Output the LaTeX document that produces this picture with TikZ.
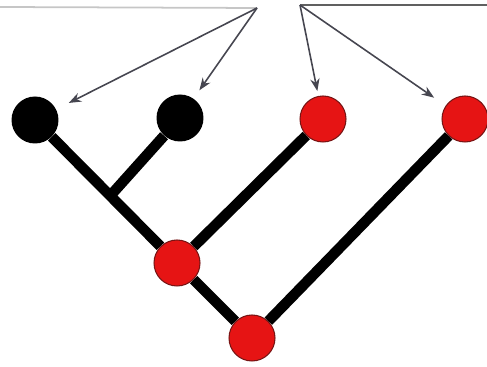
\documentclass[tikz,border=0pt]{standalone}
\usetikzlibrary{arrows.meta, calc}
\begin{document}
\begin{tikzpicture}[x=0.02cm, y=-0.02cm, >=Stealth]
            % Define Colors
            \definecolor{leafred}{RGB}{230, 20, 20}   % Red
            \definecolor{rimred}{RGB}{120, 20, 20}    % Dark rim
            \definecolor{pointer}{RGB}{70, 70, 80}    % Arrow gray

            \tikzset{
                blacknode/.style={circle, fill=black, minimum size=0.94cm, inner sep=0pt},
                rednode/.style={circle, fill=leafred, draw=rimred, line width=0.6pt, minimum size=0.92cm, inner sep=0pt},
                branch/.style={line width=6pt, black},
                pointerarrow/.style={->, pointer, line width=0.9pt}
            }

            \useasboundingbox (0,0) rectangle (487,367);

            % --- NODES ---
            \node[blacknode] (b1) at (35,120) {};
            \node[blacknode] (b2) at (180,118) {};
            \node[rednode] (r1) at (323,119) {};
            \node[rednode] (r2) at (465,119) {};
            \node[rednode] (mid) at (177,263) {};
            \node[rednode] (root) at (252,338) {};

            % --- BRANCHES ---
            \coordinate (fork) at ($(b1.center)!0.53!(mid.center)$);
            \draw[branch] (b1) -- (mid);
            \draw[branch] (b2) -- (fork);
            \draw[branch] (r1) -- (mid);
            \draw[branch] (mid) -- (root);
            \draw[branch] (r2) -- (root);

            % Top rules
            \coordinate (lsrc) at (257,8);
            \coordinate (rsrc) at (300,5);
            \coordinate (ledge) at (0,7);
            \coordinate (redge) at (487,5);
            \draw[gray!45, line width=1pt] (ledge) -- (lsrc);
            \draw[gray!75!black, line width=1.6pt] (rsrc) -- (redge);

            % --- POINTERS ---
            \draw[pointerarrow, shorten >=0.28cm] (lsrc) -- (b1);
            \draw[pointerarrow, shorten >=0.2cm] (lsrc) -- (b2);
            \draw[pointerarrow, shorten >=0.1cm] (rsrc) -- (r1);
            \draw[pointerarrow, shorten >=0.28cm] (rsrc) -- (r2);

        \end{tikzpicture}
\end{document}
